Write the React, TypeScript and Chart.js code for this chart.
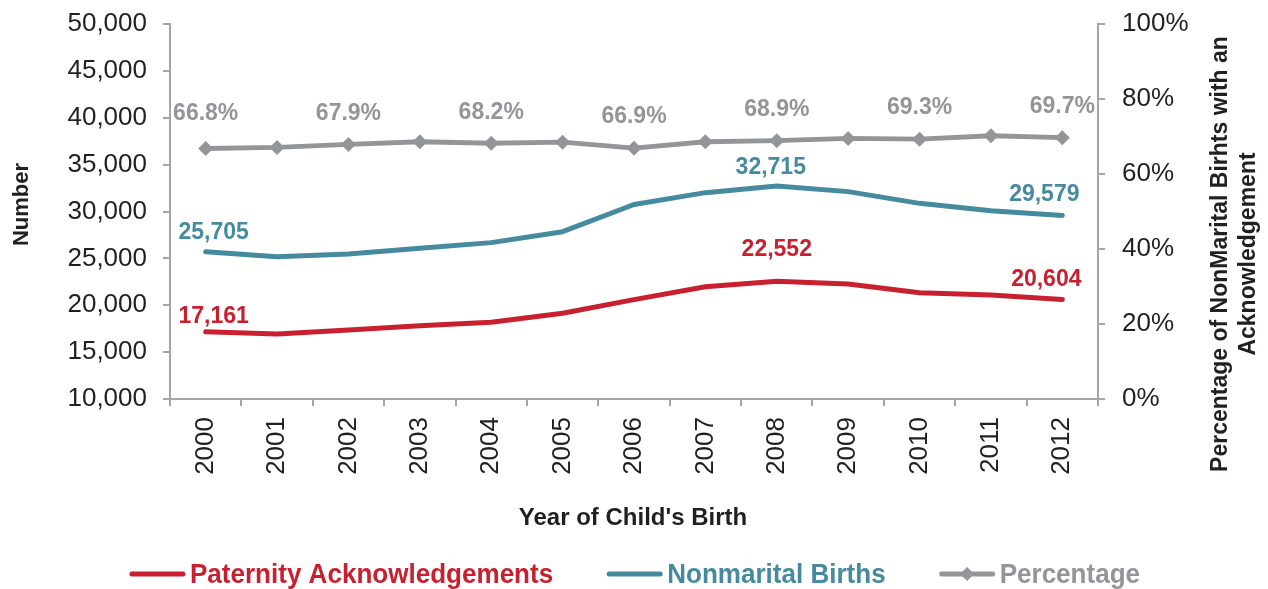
import React, { useEffect, useRef } from 'react';
import { Chart, registerables } from 'chart.js';

Chart.register(...registerables);

// ---------- data ----------
const years = ['2000', '2001', '2002', '2003', '2004', '2005', '2006', '2007', '2008', '2009', '2010', '2011', '2012'];
const paternity = [17161, 16930, 17360, 17820, 18180, 19140, 20600, 21980, 22552, 22270, 21340, 21090, 20604];
const nonmarital = [25705, 25180, 25470, 26070, 26680, 27850, 30750, 32010, 32715, 32120, 30870, 30090, 29579];
const percentage = [66.8, 67.1, 67.9, 68.6, 68.2, 68.5, 66.9, 68.6, 68.9, 69.5, 69.3, 70.2, 69.7];

const paternityLabelIdx = [0, 8, 12];
const nonmaritalLabelIdx = [0, 8, 12];
const percentageLabelIdx = [0, 2, 4, 6, 8, 10, 12];

const seriesNames = ['Paternity Acknowledgements', 'Nonmarital Births', 'Percentage'];
const leftTitle = 'Number';
const rightTitleLines = ['Percentage of NonMarital Birhts with an', 'Acknowledgement'];
const xTitle = "Year of Child's Birth";

// ---------- style ----------
const RED = '#C8202F';
const TEAL = '#468AA0';
const GREY = '#939598';
const AXIS = '#A5A5A8';
const TEXT = '#231F20';
const FONT = '"Liberation Sans", Arial, Helvetica, sans-serif';

const fmtNum = (v: number) => v.toLocaleString('en-US');
const fmtPct = (v: number) => v.toFixed(1) + '%';

function drawDiamond(ctx: CanvasRenderingContext2D, x: number, y: number, r: number, color: string) {
  ctx.beginPath();
  ctx.moveTo(x, y - r);
  ctx.lineTo(x + r, y);
  ctx.lineTo(x, y + r);
  ctx.lineTo(x - r, y);
  ctx.closePath();
  ctx.fillStyle = color;
  ctx.fill();
}

const decorPlugin = {
  id: 'decor',
  afterDatasetsDraw(chart: any) {
    const ctx: CanvasRenderingContext2D = chart.ctx;
    const specs = [
      { ds: 0, idx: paternityLabelIdx, color: RED, fmt: fmtNum, off: { 0: [8, -15], 8: [0, -32], 12: [-16, -20] } as Record<number, number[]> },
      { ds: 1, idx: nonmaritalLabelIdx, color: TEAL, fmt: fmtNum, off: { 0: [8, -19], 8: [-6, -18], 12: [-18, -21] } as Record<number, number[]> },
      { ds: 2, idx: percentageLabelIdx, color: GREY, fmt: fmtPct, off: { 0: [0, -35] } as Record<number, number[]> },
    ];
    ctx.save();
    ctx.font = `bold 23px ${FONT}`;
    ctx.textAlign = 'center';
    ctx.textBaseline = 'middle';
    for (const s of specs) {
      const meta = chart.getDatasetMeta(s.ds);
      const values = chart.data.datasets[s.ds].data as number[];
      for (const i of s.idx) {
        const pt = meta.data[i];
        const o = s.off[i] || [0, -31];
        ctx.fillStyle = s.color;
        ctx.fillText(s.fmt(values[i]), pt.x + o[0], pt.y + o[1]);
      }
    }
    ctx.restore();
  },
  afterDraw(chart: any) {
    const ctx: CanvasRenderingContext2D = chart.ctx;
    const area = chart.chartArea;
    ctx.save();
    // axis titles
    ctx.fillStyle = TEXT;
    ctx.textAlign = 'center';
    ctx.textBaseline = 'middle';
    ctx.font = `bold 22px ${FONT}`;
    ctx.save();
    ctx.translate(14, (area.top + area.bottom) / 2 - 7);
    ctx.rotate(-Math.PI / 2);
    ctx.fillText(leftTitle, 0, 0);
    ctx.restore();

    ctx.font = `bold 23px ${FONT}`;
    ctx.save();
    ctx.translate(1227, 246);
    ctx.rotate(-Math.PI / 2);
    ctx.fillText(rightTitleLines[0], 0, -14);
    ctx.fillText(rightTitleLines[1], 0, 14);
    ctx.restore();

    ctx.font = `bold 24px ${FONT}`;
    ctx.fillText(xTitle, (area.left + area.right) / 2 - 1, 510);

    // legend
    const colors = [RED, TEAL, GREY];
    const sx = 0.93;
    ctx.font = `bold 28px ${FONT}`;
    const lineLen = 55;
    const gapLT = 5;
    const gapItems = 54;
    const widths = seriesNames.map((n) => ctx.measureText(n).width * sx);
    const total = widths.reduce((a, w) => a + lineLen + gapLT + w, 0) + gapItems * (seriesNames.length - 1);
    let x = 627 - total / 2;
    const y = 566;
    ctx.textAlign = 'left';
    seriesNames.forEach((n, i) => {
      ctx.strokeStyle = colors[i];
      ctx.lineWidth = 5;
      ctx.lineCap = 'round';
      ctx.beginPath();
      ctx.moveTo(x + 2, y);
      ctx.lineTo(x + lineLen - 2, y);
      ctx.stroke();
      if (i === 2) drawDiamond(ctx, x + lineLen / 2, y, 7, GREY);
      ctx.fillStyle = colors[i];
      ctx.save();
      ctx.translate(x + lineLen + gapLT, y + 1);
      ctx.scale(sx, 1);
      ctx.fillText(n, 0, 0);
      ctx.restore();
      x += lineLen + gapLT + widths[i] + gapItems;
    });
    ctx.restore();
  },
};

export default function App() {
  const ref = useRef<HTMLCanvasElement | null>(null);
  useEffect(() => {
    if (!ref.current) return;
    const chart = new Chart(ref.current, {
      type: 'line',
      data: {
        labels: years,
        datasets: [
          {
            label: seriesNames[0],
            data: paternity,
            borderColor: RED,
            backgroundColor: RED,
            borderWidth: 5,
            borderCapStyle: 'round',
            borderJoinStyle: 'round',
            pointRadius: 0,
            tension: 0,
            yAxisID: 'y',
          },
          {
            label: seriesNames[1],
            data: nonmarital,
            borderColor: TEAL,
            backgroundColor: TEAL,
            borderWidth: 5,
            borderCapStyle: 'round',
            borderJoinStyle: 'round',
            pointRadius: 0,
            tension: 0,
            yAxisID: 'y',
          },
          {
            label: seriesNames[2],
            data: percentage,
            borderColor: GREY,
            backgroundColor: GREY,
            borderWidth: 5,
            borderJoinStyle: 'round',
            pointStyle: 'rectRot',
            pointRadius: 7.5,
            pointBorderWidth: 0,
            pointBackgroundColor: GREY,
            tension: 0,
            yAxisID: 'y1',
          },
        ],
      },
      options: {
        responsive: false,
        animation: false,
        events: [],
        layout: { padding: { top: 0, left: 0, right: 0, bottom: 0 } },
        plugins: {
          legend: { display: false },
          tooltip: { enabled: false },
          title: { display: false },
        },
        scales: {
          x: {
            type: 'category',
            offset: true,
            grid: { offset: true, drawOnChartArea: false, drawTicks: true, tickLength: 7, color: AXIS, lineWidth: 2 },
            border: { color: AXIS, width: 2 },
            ticks: {
              color: TEXT,
              font: { family: FONT, size: 26 },
              minRotation: 90,
              maxRotation: 90,
              padding: 11,
              autoSkip: false,
            },
            afterFit(scale: any) {
              scale.height = 190;
              scale.paddingLeft = 0;
              scale.paddingRight = 0;
            },
          },
          y: {
            position: 'left',
            min: 10000,
            max: 50000,
            grid: { drawOnChartArea: false, drawTicks: true, tickLength: 7, color: AXIS, lineWidth: 2 },
            border: { color: AXIS, width: 2 },
            ticks: {
              stepSize: 5000,
              color: TEXT,
              font: { family: FONT, size: 26 },
              padding: 16,
              callback: (v: any) => Number(v).toLocaleString('en-US'),
            },
            afterFit(scale: any) {
              scale.width = 162;
              scale.paddingTop = 16;
              scale.paddingBottom = 0;
            },
          },
          y1: {
            position: 'right',
            min: 0,
            max: 100,
            grid: { drawOnChartArea: false, drawTicks: true, tickLength: 7, color: AXIS, lineWidth: 2 },
            border: { color: AXIS, width: 2 },
            ticks: {
              stepSize: 20,
              color: TEXT,
              font: { family: FONT, size: 26 },
              padding: 17,
              callback: (v: any) => v + '%',
            },
            afterFit(scale: any) {
              scale.width = 162;
              scale.paddingTop = 16;
              scale.paddingBottom = 0;
            },
          },
        },
      },
      plugins: [decorPlugin],
    } as any);
    return () => chart.destroy();
  }, []);
  return <canvas ref={ref} width={1252} height={581} style={{ display: 'block' }} />;
}
